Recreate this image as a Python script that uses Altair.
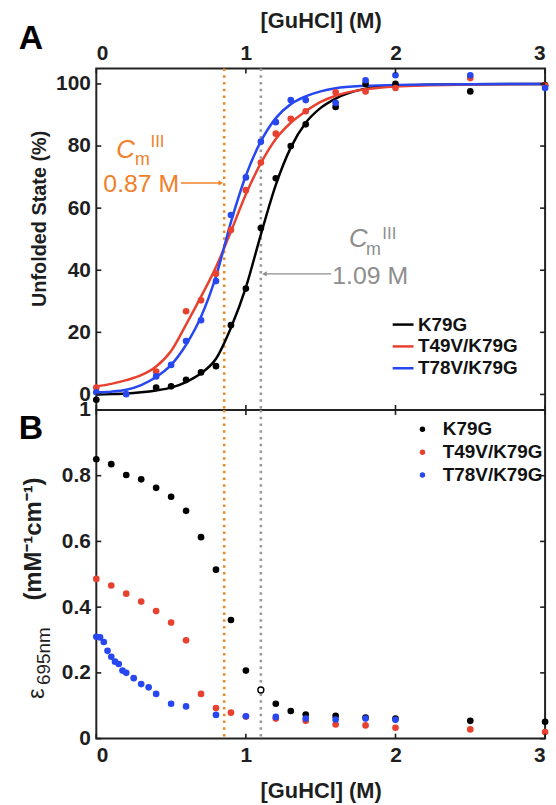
import altair as alt
import pandas as pd

F = "Liberation Sans"
INK = "#1e1e1e"
W, H1, H2 = 452, 344, 331

# ---------------- data ----------------
variants = ["K79G", "T49V/K79G", "T78V/K79G"]
colors = ["#000000", "#E8412F", "#2747F0"]

# fitted curves (panel A)
fit_x = [0, 0.1, 0.2, 0.3, 0.4, 0.5, 0.6, 0.7, 0.8, 0.9, 1.0, 1.1, 1.2, 1.3, 1.4, 1.5, 1.6, 1.8, 2.0, 2.5, 3.0]
fit_k79g = [0.0, 0.1, 0.3, 0.7, 1.3, 2.2, 4.0, 6.8, 11.5, 21.5, 34.5, 51.5, 67.5, 79.5, 87.5, 92.3, 95.3, 98.5, 99.5, 99.9, 100.0]
fit_t49v = [2.6, 3.4, 4.6, 6.2, 9.0, 14.0, 22.5, 31.5, 41.0, 52.5, 64.5, 74.5, 82.3, 87.5, 91.2, 94.2, 96.2, 98.3, 99.2, 99.8, 100.0]
fit_t78v = [0.7, 0.9, 1.5, 3.0, 5.6, 9.5, 16.0, 25.0, 38.0, 55.5, 70.5, 81.5, 89.0, 93.5, 96.0, 97.6, 98.6, 99.4, 99.7, 99.9, 100.0]

# panel A points (unfolded state, %)
a_k79g_x = [0, 0.4, 0.5, 0.6, 0.7, 0.8, 0.9, 1.0, 1.1, 1.2, 1.3, 1.4, 1.6, 1.8, 2.0, 2.5, 3.0]
a_k79g_y = [-1.7, 2.2, 2.6, 4.7, 7.1, 9.1, 22.3, 34.1, 53.6, 69.6, 80.0, 87.0, 92.6, 100.0, 100.0, 97.6, 99.6]
a_t49v_x = [0, 0.4, 0.6, 0.7, 0.8, 0.9, 1.0, 1.1, 1.2, 1.3, 1.4, 1.6, 1.8, 2.0, 2.5, 3.0]
a_t49v_y = [2.2, 7.4, 26.8, 30.3, 38.9, 53.0, 65.8, 74.7, 84.0, 88.8, 91.2, 97.3, 97.6, 98.7, 101.9, 99.5]
a_t78v_x = [0, 0.2, 0.4, 0.5, 0.6, 0.7, 0.8, 0.9, 1.0, 1.1, 1.2, 1.3, 1.4, 1.6, 1.8, 2.0, 2.5, 3.0]
a_t78v_y = [0.7, 0.1, 5.8, 9.5, 17.2, 23.9, 36.5, 57.8, 69.9, 81.4, 87.7, 94.8, 94.8, 93.9, 101.2, 102.8, 102.8, 98.7]

# panel B points (epsilon 695 nm)
b_k79g_x = [0, 0.1, 0.2, 0.3, 0.4, 0.5, 0.6, 0.7, 0.8, 0.9, 1.0, 1.2, 1.3, 1.4, 1.6, 1.8, 2.0, 2.5, 3.0]
b_k79g_y = [0.850, 0.835, 0.802, 0.789, 0.763, 0.736, 0.693, 0.613, 0.514, 0.361, 0.207, 0.106, 0.084, 0.073, 0.069, 0.064, 0.061, 0.054, 0.051]
b_t49v_x = [0, 0.1, 0.2, 0.3, 0.4, 0.5, 0.6, 0.7, 0.8, 0.9, 1.0, 1.2, 1.4, 1.6, 1.8, 2.0, 2.5, 3.0]
b_t49v_y = [0.486, 0.466, 0.441, 0.417, 0.388, 0.353, 0.299, 0.136, 0.093, 0.079, 0.067, 0.061, 0.054, 0.043, 0.040, 0.033, 0.028, 0.020]
b_t78v_x = [0, 0.025, 0.05, 0.075, 0.1, 0.125, 0.15, 0.175, 0.2, 0.25, 0.3, 0.35, 0.4, 0.5, 0.6, 0.8, 1.0, 1.2, 1.4, 1.6, 1.8, 2.0]
b_t78v_y = [0.310, 0.308, 0.294, 0.267, 0.249, 0.234, 0.227, 0.207, 0.200, 0.184, 0.166, 0.156, 0.136, 0.106, 0.098, 0.072, 0.068, 0.066, 0.061, 0.058, 0.061, 0.057]
b_open_x = [1.1]
b_open_y = [0.148]

# midpoint markers and annotations
cm_x = [0.855, 1.10]
cm_colors = ["#E8892B", "#9A9A9A"]
ann_colors = ["#F0802A", "#8E8E8E"]
ann_label = ["0.87 M", "1.09 M"]
ann_label_x = [0.047, 1.577]
ann_label_y = [65.1, 35.6]
ann_c_x = [0.133, 1.690]
ann_c_y = [76.3, 47.4]
ann_m_x = [0.258, 1.803]
ann_m_y = [73.8, 44.9]
ann_iii_x = [0.362, 1.912]
ann_iii_y = [79.6, 50.2]
arrow_x = [0.566, 1.570]
arrow_x2 = [0.825, 1.131]
arrow_y = [68.1, 38.8]
head_x = [0.832, 1.124]
head_shape = ["triangle-right", "triangle-left"]

x_ticks = [0, 1, 2, 3]
ya_ticks = [0, 20, 40, 60, 80, 100]
yb_ticks = [0, 0.2, 0.4, 0.6, 0.8, 1]


def pts(xs_list, ys_list):
    rows = []
    for v, xs, ys in zip(variants, xs_list, ys_list):
        for x, y in zip(xs, ys):
            rows.append({"x": x, "y": y, "variant": v})
    return pd.DataFrame(rows)


fit_df = pts([fit_x, fit_x, fit_x], [fit_k79g, fit_t49v, fit_t78v])
a_df = pts([a_k79g_x, a_t49v_x, a_t78v_x], [a_k79g_y, a_t49v_y, a_t78v_y])
b_df = pts([b_k79g_x, b_t49v_x, b_t78v_x], [b_k79g_y, b_t49v_y, b_t78v_y])
open_df = pd.DataFrame({"x": b_open_x, "y": b_open_y})
cm_df = pd.DataFrame({"x": cm_x, "c": cm_colors})
ann_df = pd.DataFrame({
    "lx": ann_label_x, "ly": ann_label_y, "label": ann_label,
    "cx": ann_c_x, "cy": ann_c_y, "mx": ann_m_x, "my": ann_m_y,
    "ix": ann_iii_x, "iy": ann_iii_y, "c": ann_colors,
    "ax": arrow_x, "ax2": arrow_x2, "ay": arrow_y, "hx": head_x, "hs": head_shape,
})

cscale = alt.Scale(domain=variants, range=colors)
xscale = alt.Scale(domain=[0, 3], nice=False, zero=False)
ya_scale = alt.Scale(domain=[-5, 105], nice=False, zero=False)
yb_scale = alt.Scale(domain=[0, 1], nice=False, zero=False)

lab = dict(labelFont=F, labelFontSize=21, labelFontWeight="bold", labelColor=INK,
           titleFont=F, titleFontWeight="bold", titleColor=INK)

ax_top = alt.Axis(orient="top", values=x_ticks, format="d", title="[GuHCl] (M)",
                  labelPadding=5, titleFontSize=22, titleY=-41, titleBaseline="alphabetic", **lab)
ax_bot = alt.Axis(orient="bottom", values=x_ticks, format="d", title="[GuHCl] (M)",
                  labelPadding=6, titleFontSize=22, titleY=59, titleBaseline="alphabetic", **lab)
ay_a = alt.Axis(values=ya_ticks, format="d", title="Unfolded State (%)", labelPadding=6,
                titleFontSize=20, titleAngle=270, titleX=-51, titleY=151,
                titleAlign="center", titleBaseline="alphabetic", **lab)
ay_b = alt.Axis(values=yb_ticks, format="~g", title=None, labelPadding=6, **lab)


def XA(f="x"):
    return alt.X(f, type="quantitative", scale=xscale, axis=ax_top)


def YA(f="y"):
    return alt.Y(f, type="quantitative", scale=ya_scale, axis=ay_a)


def XB(f="x"):
    return alt.X(f, type="quantitative", scale=xscale, axis=ax_bot)


def YB(f="y"):
    return alt.Y(f, type="quantitative", scale=yb_scale, axis=ay_b)


def tick_layers(X, Y, yvals, H):
    yt = pd.DataFrame({"y": yvals})
    xt = pd.DataFrame({"x": x_ticks})
    base_y = alt.Chart(yt).mark_rule(color=INK, strokeWidth=1.6)
    base_x = alt.Chart(xt).mark_rule(color=INK, strokeWidth=1.6)
    return [
        base_y.encode(y=Y(), x=alt.value(0), x2=alt.value(5)),
        base_y.encode(y=Y(), x=alt.value(W - 5), x2=alt.value(W)),
        base_x.encode(x=X(), y=alt.value(0), y2=alt.value(5)),
        base_x.encode(x=X(), y=alt.value(H - 5), y2=alt.value(H)),
    ]


def cm_rules(X):
    return alt.Chart(cm_df).mark_rule(strokeDash=[2.5, 4.3], strokeWidth=2.6).encode(
        x=X(), stroke=alt.Stroke("c:N", scale=None))


one = pd.DataFrame({"k": [0]})

# ---------------- panel A ----------------
lines_a = alt.Chart(fit_df).mark_line(strokeWidth=2.5, interpolate="monotone").encode(
    x=XA(), y=YA(),
    color=alt.Color("variant:N", scale=cscale, legend=alt.Legend(
        title=None, orient="none", legendX=297, legendY=246, symbolType="stroke",
        symbolSize=441, symbolStrokeWidth=2.5, labelFont=F, labelFontSize=19,
        labelFontWeight="bold", labelColor="#111111", labelOffset=3, rowPadding=0,
        padding=0)),
    detail="variant:N")
points_a = alt.Chart(a_df).mark_circle(size=45, opacity=1).encode(
    x=XA(), y=YA(), color=alt.Color("variant:N", scale=cscale, legend=None))

ann = alt.Chart(ann_df)
ann_layers = [
    ann.mark_rule(strokeWidth=1.3).encode(x=XA("ax"), x2="ax2:Q", y=YA("ay"),
                                          stroke=alt.Stroke("c:N", scale=None)),
    ann.mark_point(filled=True, size=28, strokeWidth=0, opacity=1).encode(
        x=XA("hx"), y=YA("ay"), shape=alt.Shape("hs:N", scale=None),
        fill=alt.Fill("c:N", scale=None)),
    ann.mark_text(align="left", baseline="alphabetic", font=F, fontSize=25).encode(
        x=XA("lx"), y=YA("ly"), text="label:N", fill=alt.Fill("c:N", scale=None)),
    ann.mark_text(align="left", baseline="alphabetic", font=F, fontSize=26,
                  fontStyle="italic", text="C").encode(
        x=XA("cx"), y=YA("cy"), fill=alt.Fill("c:N", scale=None)),
    ann.mark_text(align="left", baseline="alphabetic", font=F, fontSize=18, text="m").encode(
        x=XA("mx"), y=YA("my"), fill=alt.Fill("c:N", scale=None)),
    ann.mark_text(align="left", baseline="alphabetic", font=F, fontSize=17, text="III").encode(
        x=XA("ix"), y=YA("iy"), fill=alt.Fill("c:N", scale=None)),
]

label_a = alt.Chart(one).mark_text(text="A", align="left", baseline="alphabetic", font=F,
                                   fontSize=34, fontWeight="bold", color="#000000").encode(
    x=alt.value(-78), y=alt.value(-20))

top = alt.layer(cm_rules(XA), lines_a, points_a, *ann_layers,
                *tick_layers(XA, YA, ya_ticks, H1), label_a).properties(width=W, height=H1)

# ---------------- panel B ----------------
points_b = alt.Chart(b_df).mark_circle(size=45, opacity=1).encode(
    x=XB(), y=YB(),
    color=alt.Color("variant:N", scale=cscale, legend=alt.Legend(
        title=None, orient="none", legendX=319, legendY=10, symbolType="circle",
        symbolSize=30, labelFont=F, labelFontSize=19, labelFontWeight="bold",
        labelColor="#111111", labelOffset=11, rowPadding=3, padding=0)))
open_b = alt.Chart(open_df).mark_circle(size=36, fill="white", stroke="#000000",
                                        strokeWidth=1.4, opacity=1).encode(x=XB(), y=YB())

label_b = alt.Chart(one).mark_text(text="B", align="left", baseline="alphabetic", font=F,
                                   fontSize=34, fontWeight="bold", color="#000000").encode(
    x=alt.value(-78), y=alt.value(29))
title_b = [
    alt.Chart(one).mark_text(text="ε", angle=270, align="left", baseline="alphabetic",
                             font=F, fontSize=24, color=INK).encode(x=alt.value(-53), y=alt.value(291)),
    alt.Chart(one).mark_text(text="695nm", angle=270, align="left", baseline="alphabetic",
                             font=F, fontSize=19, color=INK).encode(x=alt.value(-47), y=alt.value(277)),
    alt.Chart(one).mark_text(text="(mM⁻¹cm⁻¹)", angle=270, align="left", baseline="alphabetic",
                             font=F, fontSize=24, fontWeight="bold", color=INK).encode(
        x=alt.value(-56), y=alt.value(192)),
]

bottom = alt.layer(cm_rules(XB), points_b, open_b, *tick_layers(XB, YB, yb_ticks, H2),
                   label_b, *title_b).properties(width=W, height=H2)

chart = alt.vconcat(top, bottom, spacing=0, bounds="flush").resolve_scale(
    color="independent").properties(
    padding={"left": 18, "top": 6, "right": 5, "bottom": 5}
).configure_view(stroke="#222222", strokeWidth=2).configure_axis(
    grid=False, domain=False, ticks=False, tickSize=0)

chart.save("out.html", embed_options={"renderer": "svg", "actions": False})
